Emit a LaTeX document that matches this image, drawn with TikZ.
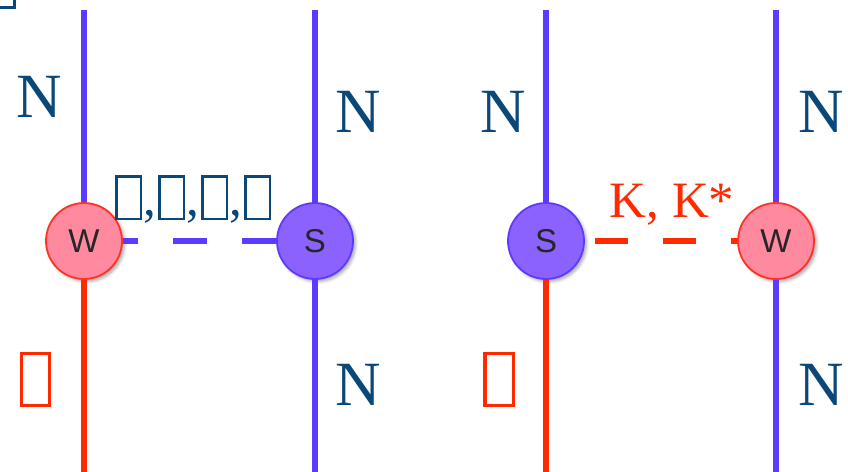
\documentclass[tikz,border=0pt]{standalone}
\usepackage{fontspec}
\setmainfont{Liberation Serif}
\newfontfamily\vertexfont{Liberation Sans}
\usetikzlibrary{shadows.blur}

\definecolor{quarkblue}{RGB}{92,58,255}
\definecolor{quarkred}{RGB}{255,42,0}
\definecolor{labelnavy}{RGB}{10,72,122}
\definecolor{sfill}{RGB}{140,98,255}
\definecolor{wfill}{RGB}{255,138,160}
\definecolor{wborder}{RGB}{255,50,36}

% empty framed box: inner width, inner height, rule width, lowering
\newcommand\tofubox[4]{\raisebox{-#4}{\setlength\fboxsep{0pt}\setlength\fboxrule{#3}\fbox{\rule{0pt}{#2}\rule{#1}{0pt}}}}
\newcommand\bluebox{\tofubox{22pt}{40pt}{2.6pt}{2.5pt}}
\newcommand\redbox{\tofubox{25pt}{49pt}{3.2pt}{0pt}}

\begin{document}
\begin{tikzpicture}[x=1pt,y=-1pt,
  vertex/.style={circle, minimum size=76pt, inner sep=0pt, line width=1.8pt,
    font=\vertexfont\fontsize{33}{33}\selectfont, text=black!85,
    blur shadow={shadow xshift=2.5pt, shadow yshift=-2.5pt, shadow blur radius=3pt, shadow opacity=35}},
  svertex/.style={vertex, draw=quarkblue, fill=sfill},
  wvertex/.style={vertex, draw=wborder, fill=wfill},
  bluequark/.style={draw=quarkblue, line width=6pt},
  redquark/.style={draw=quarkred, line width=6pt},
  nlabel/.style={anchor=base, inner sep=0pt, text=labelnavy, font=\fontsize{63}{63}\selectfont},
  mesonlabel/.style={anchor=base, inner sep=0pt, font=\fontsize{51}{51}\selectfont},
]
\useasboundingbox (0,0) rectangle (848,471);
\clip (0,0) rectangle (848,471);

% vertices
\node[wvertex] (w1) at (84,241) {W};
\node[svertex] (s1) at (315,241) {S};
\node[svertex] (s2) at (546,241) {S};
\node[wvertex] (w2) at (776,241) {W};

% free ends of the quark lines
\coordinate (w1t) at (84,10);   \coordinate (w1b) at (84,480);
\coordinate (s1t) at (315,10);  \coordinate (s1b) at (315,480);
\coordinate (s2t) at (546,10);  \coordinate (s2b) at (546,480);
\coordinate (w2t) at (776,10);  \coordinate (w2b) at (776,480);

% quark lines
\draw[bluequark] (w1t) -- (w1.north);
\draw[redquark]  (w1.south) -- (w1b);
\draw[bluequark] (s1t) -- (s1.north);
\draw[bluequark] (s1.south) -- (s1b);
\draw[bluequark] (s2t) -- (s2.north);
\draw[redquark]  (s2.south) -- (s2b);
\draw[bluequark] (w2t) -- (w2.north);
\draw[bluequark] (w2.south) -- (w2b);

% meson exchange
\draw[bluequark, dash pattern=on 34pt off 35pt] (s1.west) -- (w1.east);
\draw[redquark, dash pattern=on 33pt off 35pt, dash phase=58pt] (s2.east) -- (w2.west);

% labels
\node[nlabel] (n1) at (39,117) {N};
\node[nlabel] (n2) at (358,132) {N};
\node[nlabel] (n3) at (358,405) {N};
\node[nlabel] (n4) at (503,132) {N};
\node[nlabel] (n5) at (821,132) {N};
\node[nlabel] (n6) at (821,405) {N};

\node[mesonlabel, anchor=base west, text=labelnavy] (m1) at (115,215)
  {\bluebox\kern1pt,\kern2pt\bluebox\kern1pt,\kern2pt\bluebox\kern1pt,\kern2pt\bluebox};
\node[mesonlabel, text=quarkred] (m2) at (672,217) {K, K*};

\node[inner sep=0pt, text=quarkred] (q1) at (35.5,379.5) {\redbox};
\node[inner sep=0pt, text=quarkred] (q2) at (499,379.5) {\redbox};
\node[inner sep=0pt, anchor=south east, text=labelnavy] (t0) at (16,9) {\bluebox};
\end{tikzpicture}
\end{document}
